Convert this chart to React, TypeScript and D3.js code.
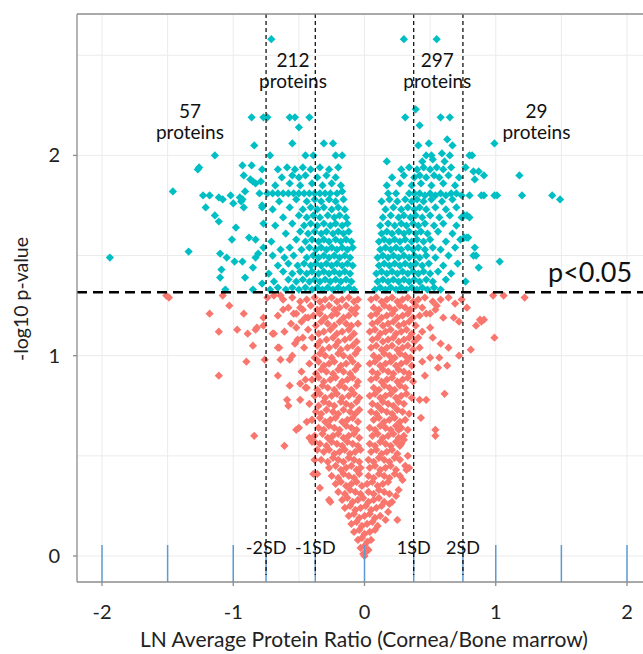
import * as d3 from "d3"

type Pt = [number, number] // [ln ratio, -log10 p]

// significant proteins (p < 0.05), left side scattered
const sigLeftSparse: Pt[] = [
  [-0.71,2.58],[-0.86,2.19],[-0.77,2.19],[-0.74,2.19],[-0.57,2.19],[-0.53,2.19],[-0.42,2.19],[-0.50,2.14],
  [-0.84,2.05],[-0.55,2.06],[-0.72,2.00],[-0.45,2.00],[-0.39,2.00],[-0.31,2.06],[-0.24,2.06],[-0.22,2.00],
  [-0.17,2.00],[-1.14,2.00],[-1.26,1.94],[-1.27,1.93],[-1.46,1.82],[-1.94,1.49],[-1.34,1.52],[-1.23,1.80],
  [-1.18,1.80],[-1.11,1.79],[-1.08,1.78],[-1.21,1.74],[-1.14,1.70],[-1.11,1.67],[-1.02,1.80],[-0.95,1.79],
  [-0.93,1.78],[-0.98,1.64],[-1.01,1.58],[-0.88,1.59],[-1.10,1.51],[-1.05,1.49],[-1.09,1.43],[-0.99,1.47],
  [-0.93,1.47],[-1.10,1.39],[-0.91,1.39],[-0.85,1.44],[-0.85,1.33],[-0.93,1.95],[-0.86,1.95],[-0.92,1.90],
  [-0.87,1.88],[-0.85,1.87],[-0.79,1.87],[-0.78,1.93],[-0.80,1.81],[-0.78,1.74],[-0.77,1.66],[-0.83,1.58],
  [-0.77,1.54],[-0.81,1.51],[-1.06,1.33],[-0.78,1.36],[-0.83,1.86],[-0.91,1.82],[-1.00,1.76],[-0.92,1.74],
  [-0.78,1.75],[-0.83,1.49],[-0.94,1.77],
]

// significant proteins, left dense block
const sigLeftDense: Pt[] = [
  [-0.72,1.33],[-0.66,1.34],[-0.60,1.33],[-0.55,1.34],[-0.50,1.33],[-0.45,1.34],[-0.40,1.33],[-0.36,1.34],
  [-0.32,1.33],[-0.28,1.34],[-0.24,1.33],[-0.20,1.34],[-0.16,1.33],[-0.12,1.34],[-0.08,1.33],
  [-0.69,1.37],[-0.58,1.38],[-0.52,1.37],[-0.47,1.38],[-0.42,1.37],[-0.38,1.38],[-0.34,1.37],[-0.30,1.38],
  [-0.26,1.37],[-0.22,1.38],[-0.18,1.37],[-0.14,1.38],[-0.10,1.37],
  [-0.73,1.41],[-0.62,1.42],[-0.55,1.41],[-0.49,1.42],[-0.44,1.41],[-0.40,1.42],[-0.35,1.41],[-0.31,1.42],
  [-0.27,1.41],[-0.23,1.42],[-0.19,1.41],[-0.15,1.42],[-0.11,1.41],
  [-0.66,1.45],[-0.58,1.46],[-0.51,1.45],[-0.46,1.46],[-0.41,1.45],[-0.37,1.46],[-0.33,1.45],[-0.29,1.46],
  [-0.25,1.45],[-0.21,1.46],[-0.17,1.45],[-0.13,1.46],[-0.09,1.45],
  [-0.70,1.50],[-0.61,1.49],[-0.54,1.50],[-0.44,1.49],[-0.39,1.50],[-0.35,1.49],[-0.31,1.50],[-0.27,1.49],
  [-0.23,1.50],[-0.19,1.49],[-0.15,1.50],[-0.11,1.49],
  [-0.64,1.53],[-0.57,1.54],[-0.48,1.53],[-0.42,1.54],[-0.37,1.53],[-0.33,1.54],[-0.29,1.53],[-0.25,1.54],
  [-0.21,1.53],[-0.17,1.54],[-0.13,1.53],[-0.09,1.54],
  [-0.71,1.57],[-0.52,1.58],[-0.45,1.57],[-0.40,1.58],[-0.35,1.57],[-0.31,1.58],[-0.27,1.57],[-0.22,1.58],
  [-0.18,1.57],[-0.14,1.58],[-0.10,1.57],
  [-0.60,1.61],[-0.49,1.62],[-0.43,1.61],[-0.38,1.62],[-0.33,1.61],[-0.29,1.62],[-0.24,1.61],[-0.20,1.62],
  [-0.16,1.61],[-0.12,1.62],
  [-0.68,1.65],[-0.55,1.66],[-0.46,1.65],[-0.41,1.66],[-0.36,1.65],[-0.31,1.66],[-0.26,1.65],[-0.22,1.66],
  [-0.17,1.65],[-0.13,1.66],
  [-0.62,1.69],[-0.50,1.70],[-0.44,1.69],[-0.39,1.70],[-0.34,1.69],[-0.28,1.70],[-0.23,1.69],[-0.19,1.70],
  [-0.14,1.69],
  [-0.70,1.73],[-0.57,1.74],[-0.47,1.73],[-0.41,1.74],[-0.36,1.73],[-0.31,1.74],[-0.25,1.73],[-0.20,1.74],
  [-0.15,1.73],
  [-0.65,1.77],[-0.52,1.78],[-0.44,1.77],[-0.38,1.78],[-0.33,1.77],[-0.27,1.78],[-0.22,1.77],[-0.16,1.78],
  [-0.74,1.81],[-0.70,1.81],[-0.66,1.81],[-0.62,1.81],[-0.58,1.81],[-0.54,1.81],[-0.50,1.81],[-0.46,1.81],
  [-0.42,1.81],[-0.38,1.81],[-0.34,1.81],[-0.30,1.81],[-0.26,1.81],[-0.21,1.81],[-0.17,1.82],
  [-0.68,1.85],[-0.57,1.86],[-0.49,1.85],[-0.40,1.86],[-0.32,1.85],[-0.25,1.86],[-0.18,1.85],
  [-0.63,1.89],[-0.55,1.90],[-0.50,1.89],[-0.45,1.90],[-0.36,1.89],[-0.29,1.90],[-0.22,1.89],
  [-0.66,1.93],[-0.59,1.94],[-0.53,1.93],[-0.47,1.94],[-0.41,1.93],[-0.34,1.94],[-0.27,1.93],[-0.20,1.94],
]

// significant proteins, right dense block
const sigRightDense: Pt[] = [
  [0.08,1.33],[0.12,1.34],[0.16,1.33],[0.20,1.34],[0.24,1.33],[0.28,1.34],[0.32,1.33],[0.36,1.34],
  [0.40,1.33],[0.44,1.34],[0.48,1.33],[0.53,1.34],[0.58,1.33],
  [0.10,1.37],[0.14,1.38],[0.18,1.37],[0.22,1.38],[0.26,1.37],[0.30,1.38],[0.34,1.37],[0.38,1.38],
  [0.42,1.37],[0.47,1.38],[0.52,1.37],[0.62,1.38],
  [0.09,1.41],[0.13,1.42],[0.17,1.41],[0.21,1.42],[0.25,1.41],[0.29,1.42],[0.33,1.41],[0.37,1.42],
  [0.41,1.41],[0.45,1.42],[0.50,1.41],[0.56,1.42],[0.66,1.41],
  [0.11,1.45],[0.15,1.46],[0.19,1.45],[0.23,1.46],[0.27,1.45],[0.31,1.46],[0.35,1.45],[0.39,1.46],
  [0.44,1.45],[0.49,1.46],[0.60,1.45],[0.71,1.46],
  [0.10,1.49],[0.14,1.50],[0.18,1.49],[0.22,1.50],[0.26,1.49],[0.30,1.50],[0.34,1.49],[0.38,1.50],
  [0.42,1.49],[0.47,1.50],[0.54,1.49],[0.64,1.50],
  [0.12,1.53],[0.16,1.54],[0.20,1.53],[0.24,1.54],[0.28,1.53],[0.33,1.54],[0.37,1.53],[0.41,1.54],
  [0.46,1.53],[0.52,1.54],[0.58,1.53],[0.69,1.54],
  [0.11,1.57],[0.15,1.58],[0.19,1.57],[0.23,1.58],[0.27,1.57],[0.31,1.58],[0.36,1.57],[0.40,1.58],
  [0.45,1.57],[0.50,1.58],[0.62,1.57],[0.73,1.58],
  [0.13,1.61],[0.17,1.62],[0.21,1.61],[0.26,1.62],[0.30,1.61],[0.34,1.62],[0.39,1.61],[0.43,1.62],
  [0.48,1.61],[0.56,1.62],[0.67,1.61],
  [0.12,1.65],[0.18,1.66],[0.23,1.65],[0.28,1.66],[0.32,1.65],[0.37,1.66],[0.41,1.65],[0.46,1.66],
  [0.53,1.65],[0.60,1.66],[0.70,1.65],
  [0.14,1.69],[0.20,1.70],[0.26,1.69],[0.30,1.70],[0.35,1.69],[0.39,1.70],[0.44,1.69],[0.50,1.70],
  [0.57,1.69],[0.65,1.70],[0.74,1.69],
  [0.16,1.73],[0.22,1.74],[0.28,1.73],[0.33,1.74],[0.38,1.73],[0.42,1.74],[0.47,1.73],[0.54,1.74],
  [0.62,1.73],[0.70,1.74],
  [0.13,1.77],[0.19,1.78],[0.25,1.77],[0.31,1.78],[0.36,1.77],[0.40,1.78],[0.45,1.77],[0.51,1.78],
  [0.59,1.77],[0.67,1.78],
  [0.18,1.81],[0.24,1.81],[0.34,1.81],[0.38,1.81],[0.42,1.81],[0.46,1.80],[0.50,1.81],[0.54,1.80],
  [0.58,1.81],[0.62,1.80],[0.66,1.81],[0.70,1.81],[0.74,1.80],
  [0.17,1.85],[0.27,1.86],[0.36,1.85],[0.43,1.86],[0.51,1.85],[0.60,1.86],[0.69,1.85],
  [0.21,1.89],[0.30,1.90],[0.38,1.89],[0.42,1.90],[0.47,1.89],[0.53,1.90],[0.57,1.89],[0.64,1.90],[0.72,1.89],
  [0.28,1.93],[0.34,1.94],[0.40,1.93],[0.45,1.94],[0.50,1.93],[0.55,1.94],[0.60,1.93],[0.66,1.94],
  [0.44,1.97],[0.52,1.98],[0.61,1.97],
]

// significant proteins, right side scattered
const sigRightSparse: Pt[] = [
  [0.30,2.58],[0.55,2.58],[0.39,2.23],[0.31,2.19],[0.58,2.19],[0.65,2.19],[0.42,2.15],[0.63,2.08],
  [0.41,2.05],[0.49,2.06],[0.67,2.05],[0.99,2.06],[0.47,2.00],[0.51,2.00],[0.59,2.01],[0.65,2.00],
  [0.80,2.00],[0.82,2.00],[0.17,1.97],[1.18,1.90],[1.20,1.80],[1.43,1.80],[1.49,1.78],[0.80,1.80],
  [0.89,1.80],[0.91,1.80],[0.99,1.80],[1.01,1.80],[0.83,1.92],[0.87,1.92],[0.91,1.90],[0.84,1.88],
  [0.77,1.94],[0.76,1.70],[0.80,1.69],[0.76,1.59],[0.78,1.59],[0.84,1.54],[0.83,1.50],[0.85,1.50],
  [0.87,1.44],[1.03,1.47],[0.77,1.37],[0.78,1.70],[0.79,1.59],
]

// non-significant proteins, left lobe
const nsLeft: Pt[] = [
  [-0.62,1.28],[-0.55,1.29],[-0.49,1.27],[-0.44,1.28],[-0.38,1.29],[-0.34,1.27],[-0.30,1.28],[-0.25,1.29],
  [-0.21,1.27],[-0.17,1.28],[-0.12,1.29],[-0.08,1.27],[-0.05,1.28],
  [-0.58,1.24],[-0.47,1.23],[-0.41,1.25],[-0.36,1.23],[-0.32,1.24],[-0.27,1.25],[-0.23,1.23],[-0.19,1.24],
  [-0.14,1.25],[-0.10,1.23],[-0.06,1.24],
  [-0.66,1.20],[-0.52,1.21],[-0.45,1.19],[-0.39,1.20],[-0.34,1.21],[-0.30,1.19],[-0.25,1.20],[-0.21,1.21],
  [-0.16,1.19],[-0.12,1.20],[-0.07,1.21],
  [-0.56,1.16],[-0.48,1.17],[-0.37,1.15],[-0.33,1.17],[-0.28,1.16],[-0.23,1.15],[-0.19,1.17],[-0.14,1.16],
  [-0.10,1.15],[-0.05,1.16],
  [-0.61,1.12],[-0.43,1.13],[-0.35,1.11],[-0.31,1.12],[-0.26,1.13],[-0.21,1.11],[-0.17,1.12],[-0.12,1.13],
  [-0.08,1.11],
  [-0.51,1.08],[-0.40,1.09],[-0.34,1.07],[-0.29,1.08],[-0.24,1.09],[-0.20,1.07],[-0.15,1.08],[-0.11,1.09],
  [-0.06,1.07],
  [-0.46,1.04],[-0.36,1.05],[-0.32,1.03],[-0.27,1.04],[-0.22,1.05],[-0.18,1.03],[-0.13,1.04],[-0.09,1.05],
  [-0.05,1.03],
  [-0.55,1.00],[-0.38,0.99],[-0.34,1.01],[-0.30,1.00],[-0.25,0.99],[-0.20,1.01],[-0.16,1.00],[-0.11,0.99],
  [-0.07,1.01],
  [-0.42,0.96],[-0.35,0.97],[-0.31,0.95],[-0.27,0.96],[-0.23,0.97],[-0.18,0.95],[-0.14,0.96],[-0.09,0.97],
  [-0.05,0.95],
  [-0.48,0.92],[-0.37,0.91],[-0.33,0.93],[-0.29,0.92],[-0.24,0.91],[-0.20,0.93],[-0.16,0.92],[-0.11,0.91],
  [-0.07,0.93],
  [-0.40,0.88],[-0.35,0.89],[-0.31,0.87],[-0.26,0.88],[-0.22,0.89],[-0.17,0.87],[-0.13,0.88],[-0.09,0.89],
  [-0.05,0.87],
  [-0.45,0.84],[-0.36,0.83],[-0.32,0.85],[-0.28,0.84],[-0.23,0.83],[-0.19,0.85],[-0.15,0.84],[-0.10,0.83],
  [-0.06,0.85],
  [-0.38,0.80],[-0.34,0.81],[-0.30,0.79],[-0.25,0.80],[-0.21,0.81],[-0.17,0.79],[-0.12,0.80],[-0.08,0.81],
  [-0.04,0.79],
  [-0.42,0.76],[-0.35,0.75],[-0.31,0.77],[-0.27,0.76],[-0.23,0.75],[-0.18,0.77],[-0.14,0.76],[-0.10,0.75],
  [-0.06,0.77],
  [-0.37,0.72],[-0.33,0.71],[-0.29,0.73],[-0.24,0.72],[-0.20,0.71],[-0.16,0.73],[-0.11,0.72],[-0.07,0.71],
  [-0.04,0.73],
  [-0.40,0.68],[-0.34,0.69],[-0.30,0.67],[-0.26,0.68],[-0.22,0.69],[-0.17,0.67],[-0.13,0.68],[-0.09,0.69],
  [-0.05,0.67],
  [-0.35,0.64],[-0.31,0.63],[-0.27,0.65],[-0.23,0.64],[-0.19,0.63],[-0.14,0.65],[-0.10,0.64],[-0.06,0.63],
  [-0.38,0.60],[-0.32,0.61],[-0.28,0.59],[-0.24,0.60],[-0.20,0.61],[-0.16,0.59],[-0.12,0.60],[-0.08,0.61],
  [-0.04,0.59],
  [-0.34,0.56],[-0.29,0.55],[-0.25,0.57],[-0.21,0.56],[-0.17,0.55],[-0.13,0.57],[-0.09,0.56],[-0.05,0.55],
  [-0.31,0.52],[-0.27,0.53],[-0.23,0.51],[-0.19,0.52],[-0.15,0.53],[-0.11,0.51],[-0.07,0.52],[-0.03,0.53],
  [-0.33,0.48],[-0.28,0.47],[-0.24,0.49],[-0.20,0.48],[-0.16,0.47],[-0.12,0.49],[-0.08,0.48],[-0.04,0.47],
  [-0.27,0.44],[-0.22,0.45],[-0.18,0.43],[-0.14,0.44],[-0.10,0.45],[-0.06,0.43],[-0.03,0.44],
  [-0.25,0.40],[-0.20,0.39],[-0.16,0.41],[-0.12,0.40],[-0.08,0.39],[-0.04,0.41],
  [-0.22,0.36],[-0.18,0.37],[-0.14,0.35],[-0.10,0.36],[-0.06,0.37],[-0.02,0.35],
  [-0.20,0.32],[-0.15,0.31],[-0.11,0.33],[-0.07,0.32],[-0.03,0.31],
]

// non-significant proteins, right lobe
const nsRight: Pt[] = [
  [0.05,1.28],[0.09,1.29],[0.13,1.27],[0.17,1.28],[0.21,1.29],[0.25,1.27],[0.29,1.28],[0.33,1.29],
  [0.37,1.27],[0.41,1.28],[0.46,1.29],[0.52,1.27],[0.58,1.28],
  [0.07,1.24],[0.11,1.23],[0.15,1.25],[0.19,1.24],[0.23,1.23],[0.27,1.25],[0.31,1.24],[0.35,1.23],
  [0.39,1.25],[0.44,1.24],
  [0.05,1.20],[0.09,1.21],[0.13,1.19],[0.17,1.20],[0.21,1.21],[0.25,1.19],[0.29,1.20],[0.33,1.21],
  [0.37,1.19],[0.42,1.20],[0.47,1.21],
  [0.06,1.16],[0.10,1.17],[0.14,1.15],[0.18,1.16],[0.22,1.17],[0.26,1.15],[0.30,1.16],[0.34,1.17],[0.39,1.15],
  [0.04,1.12],[0.08,1.13],[0.12,1.11],[0.16,1.12],[0.20,1.13],[0.24,1.11],[0.28,1.12],[0.32,1.13],
  [0.36,1.11],[0.44,1.12],
  [0.06,1.08],[0.10,1.09],[0.14,1.07],[0.18,1.08],[0.22,1.09],[0.26,1.07],[0.30,1.08],[0.34,1.09],[0.38,1.07],
  [0.05,1.04],[0.09,1.05],[0.13,1.03],[0.17,1.04],[0.21,1.05],[0.25,1.03],[0.29,1.04],[0.33,1.05],[0.37,1.03],
  [0.07,1.00],[0.11,0.99],[0.15,1.01],[0.19,1.00],[0.23,0.99],[0.27,1.01],[0.31,1.00],[0.35,0.99],
  [0.04,0.96],[0.08,0.97],[0.12,0.95],[0.16,0.96],[0.20,0.97],[0.24,0.95],[0.28,0.96],[0.32,0.97],[0.36,0.95],
  [0.06,0.92],[0.10,0.91],[0.14,0.93],[0.18,0.92],[0.22,0.91],[0.26,0.93],[0.30,0.92],[0.34,0.91],
  [0.05,0.88],[0.09,0.89],[0.13,0.87],[0.17,0.88],[0.21,0.89],[0.25,0.87],[0.29,0.88],[0.33,0.89],[0.37,0.87],
  [0.07,0.84],[0.11,0.83],[0.15,0.85],[0.19,0.84],[0.23,0.83],[0.27,0.85],[0.31,0.84],
  [0.04,0.80],[0.08,0.81],[0.12,0.79],[0.16,0.80],[0.20,0.81],[0.24,0.79],[0.28,0.80],[0.32,0.81],[0.36,0.79],
  [0.06,0.76],[0.10,0.75],[0.14,0.77],[0.18,0.76],[0.22,0.75],[0.26,0.77],[0.30,0.76],
  [0.05,0.72],[0.09,0.71],[0.13,0.73],[0.17,0.72],[0.21,0.71],[0.25,0.73],[0.29,0.72],[0.34,0.71],
  [0.07,0.68],[0.11,0.69],[0.15,0.67],[0.19,0.68],[0.23,0.69],[0.27,0.67],[0.31,0.68],
  [0.04,0.64],[0.08,0.63],[0.12,0.65],[0.16,0.64],[0.20,0.63],[0.24,0.65],[0.28,0.64],[0.33,0.63],
  [0.06,0.60],[0.10,0.61],[0.14,0.59],[0.18,0.60],[0.22,0.61],[0.26,0.59],[0.30,0.60],
  [0.04,0.56],[0.08,0.55],[0.12,0.57],[0.16,0.56],[0.20,0.55],[0.24,0.57],[0.28,0.56],
  [0.05,0.52],[0.09,0.53],[0.13,0.51],[0.17,0.52],[0.21,0.53],[0.25,0.51],
  [0.03,0.48],[0.07,0.47],[0.11,0.49],[0.15,0.48],[0.19,0.47],[0.23,0.49],[0.27,0.48],
  [0.04,0.44],[0.08,0.45],[0.12,0.43],[0.16,0.44],[0.20,0.45],[0.24,0.43],
  [0.03,0.40],[0.07,0.39],[0.11,0.41],[0.15,0.40],[0.19,0.39],[0.23,0.41],
  [0.02,0.36],[0.06,0.37],[0.10,0.35],[0.14,0.36],[0.18,0.37],
  [0.03,0.32],[0.07,0.31],[0.11,0.33],[0.15,0.32],[0.19,0.31],
]

// non-significant proteins, bottom of the V
const nsCentre: Pt[] = [
  [-0.17,0.28],[-0.13,0.29],[-0.09,0.27],[-0.05,0.28],[-0.01,0.29],[0.03,0.27],[0.07,0.28],[0.11,0.29],[0.15,0.27],
  [-0.15,0.24],[-0.11,0.25],[-0.07,0.23],[-0.03,0.24],[0.01,0.25],[0.05,0.23],[0.09,0.24],[0.13,0.25],
  [-0.12,0.20],[-0.08,0.21],[-0.04,0.19],[0.00,0.20],[0.04,0.21],[0.08,0.19],[0.12,0.20],
  [-0.10,0.16],[-0.06,0.17],[-0.02,0.15],[0.02,0.16],[0.06,0.17],[0.10,0.15],
  [-0.08,0.12],[-0.04,0.13],[0.00,0.11],[0.04,0.12],[0.08,0.13],
  [-0.05,0.08],[-0.02,0.09],[0.02,0.07],[0.05,0.08],
  [-0.03,0.04],[0.00,0.05],[0.03,0.03],
  [-0.01,0.01],[0.01,0.02],[0.00,0.00],
]

// non-significant proteins, scattered outside the V
const nsSparse: Pt[] = [
  [-1.51,1.30],[-1.49,1.29],[-1.08,1.30],[-1.03,1.25],[-1.18,1.21],[-0.92,1.21],[-1.11,1.12],[-0.97,1.13],
  [-0.89,1.11],[-0.83,1.13],[-0.77,1.15],[-0.85,1.05],[-0.90,0.97],[-0.76,0.98],[-1.11,0.90],[-0.66,0.90],
  [-0.64,0.98],[-0.65,1.04],[-0.69,1.11],[-0.57,0.85],[-0.49,0.86],[-0.59,0.78],[-0.58,0.75],[-0.49,0.78],
  [-0.44,0.84],[-0.50,0.64],[-0.52,0.63],[-0.44,0.67],[-0.40,0.68],[-0.84,0.60],[-0.61,0.55],[-0.42,0.59],
  [-0.40,0.57],[-0.69,1.30],[-0.64,1.30],[-0.74,1.29],[-0.62,1.23],[-0.54,1.21],[-0.49,1.24],[-0.43,1.19],
  [-0.77,1.19],[-0.82,1.14],[-0.70,1.11],[-0.66,1.04],[-0.57,0.98],[-0.53,1.06],[-0.47,1.09],[-0.52,1.14],
  [-0.45,0.88],[-0.38,0.48],[-0.36,0.41],[-0.34,0.34],[-0.27,0.28],[-0.39,0.41],[-0.36,0.53],[-0.38,0.57],
  [-0.26,0.27],
  [0.98,1.30],[1.06,1.30],[1.22,1.29],[0.88,1.18],[0.85,1.15],[0.89,1.17],[0.91,1.18],[0.99,1.09],
  [0.81,1.03],[0.78,1.24],[0.72,1.00],[0.64,1.29],[0.68,1.19],[0.64,1.04],[0.57,0.99],[0.56,0.94],
  [0.63,0.95],[0.58,1.06],[0.52,1.09],[0.50,1.14],[0.60,1.19],[0.54,1.23],[0.55,1.25],[0.50,1.21],
  [0.61,0.81],[0.47,0.78],[0.42,0.78],[0.43,0.69],[0.54,0.63],[0.54,0.60],[0.46,0.90],[0.44,0.97],
  [0.42,1.04],[0.41,1.09],[0.50,0.99],[0.72,1.17],[0.69,1.26],[0.74,1.28],[0.27,0.55],[0.32,0.43],
  [0.33,0.50],[0.31,0.45],[0.29,0.38],[0.26,0.33],[0.24,0.30],[0.21,0.27],[0.18,0.22],[0.16,0.18],
  [0.19,0.26],[0.25,0.18],[0.26,0.63],[0.30,0.58],[0.34,0.44],[0.27,0.40],
]

const xTicks = [-2, -1, 0, 1, 2]
const yTicks = [0, 1, 2]
const gridX = [-2, -1.5, -1, -0.5, 0, 0.5, 1, 1.5, 2]
const gridY = [0, 0.5, 1, 1.5, 2, 2.5]
const blueTicks = [-2, -1.5, -1, -0.75, -0.375, 0, 0.375, 0.75, 1, 1.5, 2]
const sdLines = [
  { label: "-2SD", x: -0.75 },
  { label: "-1SD", x: -0.375 },
  { label: "1SD", x: 0.375 },
  { label: "2SD", x: 0.75 },
]
const groupCounts = [
  { n: "57", x: -1.33, y: 2.187 },
  { n: "212", x: -0.545, y: 2.44 },
  { n: "297", x: 0.555, y: 2.44 },
  { n: "29", x: 1.31, y: 2.187 },
]
const pLine = 1.317 // drawn slightly above -log10(0.05) in the source figure

const TEAL = "#00BFC4"
const RED = "#F8766D"
const FONT = "Lato, 'Open Sans', sans-serif"

export default function App() {
  const W = 643
  const H = 654
  const left = 77
  const top = 14
  const bottom = 582
  const right = 660

  const x = d3.scaleLinear().domain([-2, 2]).range([102, 627])
  const y = d3.scaleLinear().domain([0, 2]).range([556, 155.4])

  const diamond = d3.symbol(d3.symbolSquare, 34)() as string
  const red = [...nsLeft, ...nsRight, ...nsCentre, ...nsSparse]
  const teal = [...sigLeftSparse, ...sigLeftDense, ...sigRightDense, ...sigRightSparse]

  return (
    <svg width={W} height={H} style={{ position: "absolute", left: 0, top: 0, background: "#fff" }} fontFamily={FONT}>
      <defs>
        <clipPath id="panel">
          <rect x={left} y={top} width={right - left} height={bottom - top} />
        </clipPath>
      </defs>

      {/* grid */}
      <g stroke="#ebebeb" strokeWidth={1}>
        {gridX.map((v) => (
          <line key={"gx" + v} x1={x(v)} x2={x(v)} y1={top} y2={bottom} />
        ))}
        {gridY.map((v) => (
          <line key={"gy" + v} x1={left} x2={right} y1={y(v)} y2={y(v)} />
        ))}
      </g>

      {/* points */}
      <g clipPath="url(#panel)">
        {red.map((d, i) => (
          <path key={"r" + i} d={diamond} fill={RED} transform={`translate(${x(d[0])},${y(d[1])}) rotate(45)`} />
        ))}
        {teal.map((d, i) => (
          <path key={"t" + i} d={diamond} fill={TEAL} transform={`translate(${x(d[0])},${y(d[1])}) rotate(45)`} />
        ))}
      </g>

      {/* blue reference ticks along the bottom */}
      <g stroke="#5B9BD5" strokeWidth={1.5}>
        {blueTicks.map((v) => (
          <line key={"b" + v} x1={x(v)} x2={x(v)} y1={bottom - 37} y2={bottom} />
        ))}
      </g>

      {/* SD lines */}
      <g stroke="#000" strokeWidth={1.2} strokeDasharray="4,3">
        {sdLines.map((s) => (
          <line key={s.label} x1={x(s.x)} x2={x(s.x)} y1={top} y2={bottom - 7} />
        ))}
      </g>
      {sdLines.map((s) => (
        <text key={"t" + s.label} x={x(s.x)} y={554} textAnchor="middle" fontSize={18} fill="#111">
          {s.label}
        </text>
      ))}

      {/* p threshold */}
      <line x1={left} x2={W} y1={y(pLine)} y2={y(pLine)} stroke="#000" strokeWidth={2.5} strokeDasharray="10,6" />
      <text x={548} y={282} fontSize={27} fill="#111">p&lt;0.05</text>

      {/* group counts */}
      {groupCounts.map((g) => (
        <g key={g.n} textAnchor="middle" fontSize={19} fill="#111">
          <text x={x(g.x)} y={y(g.y)}>{g.n}</text>
          <text x={x(g.x)} y={y(g.y) + 21}>proteins</text>
        </g>
      ))}

      {/* panel border */}
      <g stroke="#8c8c8c" strokeWidth={1.3} fill="none">
        <line x1={left} x2={W} y1={top} y2={top} />
        <line x1={left} x2={left} y1={top} y2={bottom} />
        <line x1={left} x2={W} y1={bottom} y2={bottom} />
        {yTicks.map((v) => (
          <line key={"yt" + v} x1={left - 4} x2={left} y1={y(v)} y2={y(v)} />
        ))}
        {xTicks.map((v) => (
          <line key={"xt" + v} x1={x(v)} x2={x(v)} y1={bottom} y2={bottom + 4} />
        ))}
      </g>

      {/* tick labels */}
      {xTicks.map((v) => (
        <text key={"xl" + v} x={x(v)} y={619} textAnchor="middle" fontSize={20} fill="#222">
          {v}
        </text>
      ))}
      {yTicks.map((v) => (
        <text key={"yl" + v} x={60} y={y(v) + 7} textAnchor="end" fontSize={20} fill="#222">
          {v}
        </text>
      ))}

      {/* axis titles */}
      <text x={364} y={647} textAnchor="middle" fontSize={21} fill="#222">
        LN Average Protein Ratio (Cornea/Bone marrow)
      </text>
      <text transform="translate(28,299) rotate(-90)" textAnchor="middle" fontSize={19.5} fill="#222">
        -log10 p-value
      </text>
    </svg>
  )
}
